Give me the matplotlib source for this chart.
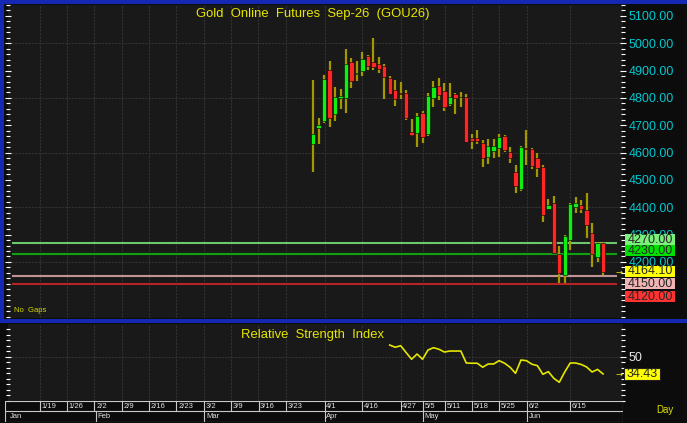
import matplotlib
matplotlib.use('Agg')
import matplotlib.pyplot as plt
from matplotlib.patches import Rectangle
from matplotlib.ticker import MultipleLocator

plt.rcParams['font.family'] = ['Liberation Sans', 'DejaVu Sans']

# daily bars (bar index 0 = first traded bar, 3/30)
opens = [4632, 4689, 4716, 4902, 4741, 4800, 4799, 4931, 4886, 4900,
         4954, 4933, 4924, 4918, 4874, 4829, 4818, 4819, 4677, 4673,
         4746, 4668, 4801, 4845, 4826, 4778, 4813, 4804, 4803, 4655,
         4655, 4634, 4583, 4606, 4616, 4661, 4603, 4529, 4466, 4616,
         4612, 4582, 4549, 4395, 4415, 4229, 4151, 4280, 4402, 4408,
         4390, 4307, 4217, 4268]
highs = [4866, 4728, 4884, 4935, 4839, 4832, 4978, 4945, 4936, 4967,
         4957, 5020, 4949, 4923, 4880, 4866, 4860, 4829, 4722, 4744,
         4753, 4819, 4862, 4872, 4856, 4856, 4819, 4823, 4813, 4668,
         4683, 4646, 4650, 4650, 4668, 4665, 4622, 4555, 4624, 4683,
         4616, 4598, 4555, 4429, 4441, 4258, 4299, 4415, 4437, 4427,
         4453, 4341, 4274, 4274]
lows = [4530, 4632, 4707, 4693, 4717, 4759, 4746, 4838, 4863, 4882,
        4902, 4902, 4890, 4795, 4814, 4772, 4795, 4719, 4661, 4622,
        4636, 4661, 4766, 4793, 4754, 4772, 4741, 4768, 4638, 4612,
        4632, 4546, 4558, 4579, 4583, 4603, 4563, 4453, 4460, 4555,
        4539, 4510, 4347, 4393, 4232, 4122, 4122, 4244, 4380, 4380,
        4287, 4183, 4201, 4152]
closes = [4668, 4701, 4868, 4726, 4805, 4806, 4924, 4863, 4890, 4942,
          4918, 4915, 4906, 4876, 4815, 4795, 4815, 4726, 4665, 4735,
          4658, 4808, 4841, 4811, 4768, 4805, 4799, 4802, 4640, 4641,
          4641, 4579, 4624, 4624, 4656, 4610, 4579, 4478, 4622, 4612,
          4551, 4543, 4372, 4408, 4234, 4161, 4295, 4411, 4415, 4393,
          4335, 4229, 4268, 4164.1]

# RSI from bar 14 onwards
rsi_start = 14
rsi = [60.5, 58.5, 59.9, 53.7, 47.7, 52.4, 47.7, 56.0, 58.1, 56.7,
       54.2, 55.1, 55.1, 55.1, 44.3, 44.1, 44.1, 40.5, 43.4, 43.4,
       46.4, 44.1, 40.5, 35.0, 47.0, 46.4, 43.2, 41.9, 34.1, 36.5,
       30.5, 26.9, 36.2, 44.3, 44.3, 43.0, 40.7, 36.2, 38.5, 34.43]

# week / month boundaries on the bar axis
week_pos = [-50, -45, -40, -35, -30, -25, -20, -15, -10, -5,
            2.1, 9, 16, 20.1, 24.1, 29.1, 34, 39.1, 46.9]
week_labels = ['1/19', '1/26', '2/2', '2/9', '2/16', '2/23', '3/2', '3/9',
               '3/16', '3/23', '4/1', '4/16', '4/27', '5/5', '5/11',
               '5/18', '5/25', '6/2', '6/15']
month_pos = [-39.8, -19.9, 2.1, 20.1, 39.1]
month_labels = ['Feb', 'Mar', 'Apr', 'May', 'Jun']

levels = [4270, 4230, 4150, 4120]
level_colors = ['#6cc86c', '#10a010', '#c09494', '#b42424']
last_price = 4164.10
price_ticks = list(range(4200, 5200, 100))

W, H = 687, 423
XL = (-55.8, 56.6)
BG = '#191919'
GRID = '#323232'


def rect(x0, y0, x1, y1):
    return [x0 / W, 1 - y1 / H, (x1 - x0) / W, (y1 - y0) / H]


def fx(px):
    return px / W


def fy(py):
    return 1 - py / H


fig = plt.figure(figsize=(W / 100, H / 100), dpi=100, facecolor='#0c0c0c')

# ---- price panel ----
ax = fig.add_axes(rect(8, 5, 622.7, 318))
ax.set_facecolor(BG)
ax.set_xlim(*XL)
ax.set_ylim(3995, 5140)
for y in range(4200, 5100, 200):
    ax.axhline(y, color=GRID, lw=0.8, ls=(0, (2, 1)), zorder=0)
for x in week_pos:
    ax.axvline(x, color=GRID, lw=0.8, ls=(0, (2, 1)), zorder=0)

for lv, col in zip(levels, level_colors):
    ax.hlines(lv, -55.0, 55.6, color=col, lw=1.5, zorder=1)

for i, (o, h, l, c) in enumerate(zip(opens, highs, lows, closes)):
    col = '#10f010' if c >= o else '#ff2626'
    ax.vlines(i, l, h, color='#a49800', lw=1.6, zorder=2)
    ax.bar(i, max(abs(c - o), 3), bottom=min(o, c), width=0.8,
           color=col, edgecolor='black', lw=0.4, zorder=3)

ax.yaxis.tick_right()
ax.set_yticks(price_ticks)
ax.set_yticklabels(['%.2f' % v for v in price_ticks])
ax.yaxis.set_minor_locator(MultipleLocator(20))
ax.tick_params(axis='y', which='both', colors='white', labelcolor='#00c8d0',
               labelsize=9, direction='inout', left=True, right=True,
               length=4, width=0.8, pad=2)
ax.tick_params(axis='y', which='minor', length=3)
ax.set_xticks([])
for s in ax.spines.values():
    s.set_visible(False)

ax.text(0.495, 0.97, 'Gold  Online  Futures  Sep-26  (GOU26)',
        transform=ax.transAxes, ha='center', va='center',
        color='#e6e600', fontsize=9.4)
ax.text(0.01, 0.012, 'No  Gaps', transform=ax.transAxes, ha='left',
        va='bottom', color='#d8d800', fontsize=5.5)
ax.text(55.9, last_price, '\u2192', color='#e6e600', fontsize=6,
        ha='center', va='center', family='DejaVu Sans')

# ---- RSI panel ----
ar = fig.add_axes(rect(8, 324, 622.7, 401))
ar.set_facecolor(BG)
ar.set_xlim(*XL)
ar.set_ylim(10, 79.5)
ar.axhline(50, color=GRID, lw=0.8, ls=(0, (2, 1)), zorder=0)
for x in week_pos:
    ar.axvline(x, color=GRID, lw=0.8, ls=(0, (2, 1)), zorder=0)
ar.plot(range(rsi_start, rsi_start + len(rsi)), rsi, color='#e6e600', lw=1.2)
ar.yaxis.tick_right()
ar.set_yticks([50])
ar.set_yticklabels(['50'])
ar.yaxis.set_minor_locator(MultipleLocator(5))
ar.tick_params(axis='y', which='both', colors='white', labelcolor='#e8e8e8',
               labelsize=9, direction='inout', left=True, right=True,
               length=4, width=0.8, pad=2)
ar.tick_params(axis='y', which='minor', length=3)
ar.set_xticks([])
for s in ar.spines.values():
    s.set_visible(False)
ar.text(0.495, 0.86, 'Relative  Strength  Index', transform=ar.transAxes,
        ha='center', va='center', color='#e6e600', fontsize=9.4)
ar.text(55.9, rsi[-1], '\u2192', color='#e6e600', fontsize=6,
        ha='center', va='center', family='DejaVu Sans')

# ---- date rows ----
ad = fig.add_axes(rect(5, 401, 622.7, 421.5))
ad.set_facecolor('#121212')
ad.set_xlim(-56.36, XL[1])
ad.set_ylim(2, 0)
ad.axis('off')
line_kw = dict(color='#c8c8c8', lw=0.8)
for y in (0, 1, 2):
    ad.plot([-56.36, XL[1]], [y, y], **line_kw)
ad.plot([-56.36, -56.36], [0, 2], **line_kw)
ad.plot([XL[1], XL[1]], [0, 2], **line_kw)
for x, lab in zip(week_pos, week_labels):
    ad.plot([x, x], [0, 1], **line_kw)
    ad.text(x + 0.3, 0.55, lab, color='#e0e0e0', fontsize=5.5,
            ha='left', va='center')
ad.text(-55.4, 1.55, 'Jan', color='#e0e0e0', fontsize=5.5, ha='left',
        va='center')
for x, lab in zip(month_pos, month_labels):
    ad.plot([x, x], [1, 2], **line_kw)
    ad.text(x + 0.3, 1.55, lab, color='#e0e0e0', fontsize=5.5,
            ha='left', va='center')
fig.text(fx(665), fy(410), 'Day', color='#e0e000', fontsize=7,
         ha='center', va='center')

# ---- right-hand value boxes ----
boxes = [('4270.00', '#7cf07c', 239.7),
         ('4230.00', '#00e000', 250.7),
         ('4164.10', '#ffff00', 271.5),
         ('4150.00', '#f0b4b4', 283.7),
         ('4120.00', '#ff3232', 296.7)]
for lab, col, yc in boxes:
    fig.add_artist(Rectangle((fx(625), fy(yc + 5.3)), 50 / W, 10.6 / H,
                             transform=fig.transFigure, facecolor=col,
                             edgecolor='none', zorder=5))
    fig.text(fx(650), fy(yc), lab, color='#262626', fontsize=9,
             ha='center', va='center', zorder=6)
fig.add_artist(Rectangle((fx(624), fy(380)), 36 / W, 12 / H,
                         transform=fig.transFigure, facecolor='#ffff00',
                         edgecolor='#202020', lw=0.8, zorder=5))
fig.text(fx(642), fy(374), '34.43', color='#262626', fontsize=9,
         ha='center', va='center', zorder=6)

# frame strips
for x0, y0, x1, y1 in [(0, 0, 687, 4), (0, 0, 4, 320), (0, 319, 687, 323)]:
    fig.add_artist(Rectangle((fx(x0), fy(y1)), (x1 - x0) / W, (y1 - y0) / H,
                             transform=fig.transFigure, facecolor='#1428b4',
                             edgecolor='none', zorder=4))

fig.savefig('out.png', dpi=100, facecolor=fig.get_facecolor())
